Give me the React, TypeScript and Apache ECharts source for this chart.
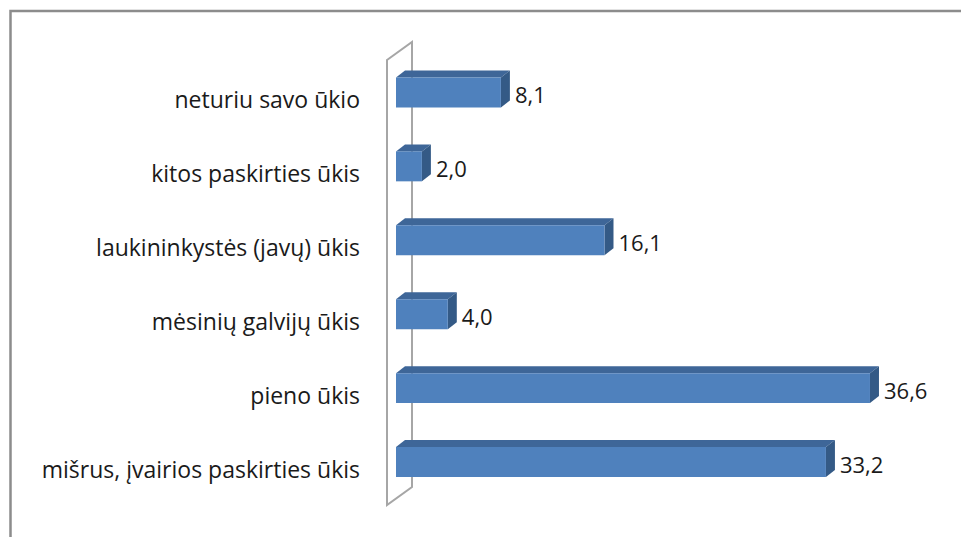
import React, { useEffect, useRef } from "react";
import * as echarts from "echarts";

const categories = [
  "mišrus, įvairios paskirties ūkis",
  "pieno ūkis",
  "mėsinių galvijų ūkis",
  "laukininkystės (javų) ūkis",
  "kitos paskirties ūkis",
  "neturiu savo ūkio",
];
const values = [33.2, 36.6, 4.0, 16.1, 2.0, 8.1];
const valueLabels = values.map((v) => v.toFixed(1).replace(".", ","));

const FONT = "'Open Sans', 'Noto Sans', sans-serif";

export default function App() {
  const ref = useRef<HTMLDivElement>(null);
  useEffect(() => {
    if (!ref.current) return;
    const chart = echarts.init(ref.current, null, { renderer: "svg" });
    const dx = 9;
    const dy = -7;
    chart.setOption({
      animation: false,
      backgroundColor: "#ffffff",
      grid: { left: 396, right: 47, top: 55.5, bottom: 38 },
      xAxis: {
        type: "value",
        min: 0,
        max: 40,
        show: false,
      },
      yAxis: {
        type: "category",
        data: categories,
        axisLine: { show: false },
        axisTick: { show: false },
        splitLine: { show: false },
        axisLabel: {
          margin: 36,
          fontSize: 23,
          fontFamily: FONT,
          color: "#1a1a1a",
          verticalAlign: "top",
          lineHeight: 13,
        },
      },
      graphic: [
        {
          type: "rect",
          z: 0,
          shape: { x: 10.5, y: 11, width: 1200, height: 900 },
          style: { fill: "none", stroke: "#8c8c8c", lineWidth: 2.5 },
        },
        {
          type: "polygon",
          z: 1,
          shape: {
            points: [
              [387, 60],
              [412, 42],
              [412, 487],
              [387, 505],
            ],
          },
          style: { fill: "none", stroke: "#a6a6a6", lineWidth: 2 },
        },
      ],
      series: [
        {
          type: "custom",
          z: 5,
          data: values.map((v, i) => [v, i]),
          encode: { x: 0, y: 1 },
          renderItem: (params: any, api: any) => {
            const i = api.value(1);
            const v = api.value(0);
            const start = api.coord([0, i]);
            const end = api.coord([v, i]);
            const band = api.size([0, 1])[1];
            const h = band * 0.405;
            const x0 = start[0];
            const x1 = end[0];
            const yc = start[1];
            const top = yc - h / 2;
            const bottom = yc + h / 2;
            return {
              type: "group",
              children: [
                {
                  type: "polygon",
                  shape: {
                    points: [
                      [x0, top],
                      [x0 + dx, top + dy],
                      [x1 + dx, top + dy],
                      [x1, top],
                    ],
                  },
                  style: { fill: "#3e6698" },
                },
                {
                  type: "polygon",
                  shape: {
                    points: [
                      [x1, top],
                      [x1 + dx, top + dy],
                      [x1 + dx, bottom + dy],
                      [x1, bottom],
                    ],
                  },
                  style: { fill: "#345a86" },
                },
                {
                  type: "rect",
                  shape: { x: x0, y: top, width: x1 - x0, height: h },
                  style: { fill: "#4f81bd" },
                },
                {
                  type: "text",
                  x: x1 + dx + 5,
                  y: yc + 2,
                  style: {
                    text: valueLabels[params.dataIndex],
                    fontSize: 22,
                    fontFamily: FONT,
                    fill: "#1a1a1a",
                    verticalAlign: "middle",
                    align: "left",
                  },
                },
              ],
            };
          },
        },
      ],
    });
    return () => chart.dispose();
  }, []);
  return (
    <div
      ref={ref}
      style={{ position: "fixed", left: 0, top: 0, width: 961, height: 537 }}
    />
  );
}
